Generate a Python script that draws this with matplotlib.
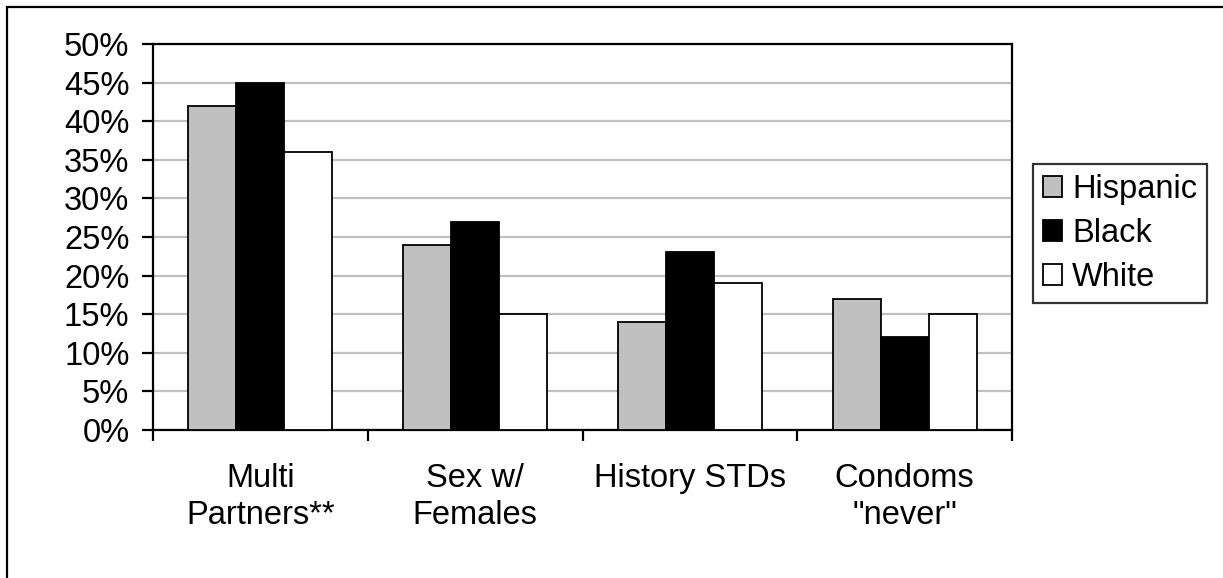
import numpy as np
import matplotlib
matplotlib.use('Agg')
from matplotlib import pyplot as plt
from matplotlib.patches import Rectangle

plt.rcParams['font.family'] = ['Liberation Sans', 'DejaVu Sans']

# Risk behaviours by group
categories = ['Multi\nPartners**', 'Sex w/\nFemales', 'History STDs', 'Condoms\n"never"']
hispanic = [42, 24, 14, 17]
black = [45, 27, 23, 12]
white = [36, 15, 19, 15]
series_names = ['Hispanic', 'Black', 'White']
series_colors = ['#c0c0c0', '#000000', '#ffffff']
y_ticks = [0, 5, 10, 15, 20, 25, 30, 35, 40, 45, 50]

W, H = 1223, 578
fs = 23.5
fig = plt.figure(figsize=(W / 100, H / 100), dpi=100)
ax = fig.add_axes([153 / W, 1 - 430 / H, (1012 - 153) / W, (430 - 44) / H])

x = np.arange(len(categories))
bw = 0.2235
for i, (vals, name, col) in enumerate(zip([hispanic, black, white], series_names, series_colors)):
    ax.bar(x + (i - 1) * bw, vals, bw, color=col, edgecolor='black',
           linewidth=1.3, label=name, zorder=3)

ax.set_xlim(-0.5, len(categories) - 0.5)
ax.set_ylim(0, 50)
ax.set_yticks(y_ticks)
ax.set_yticklabels([f'{t}%' for t in y_ticks])
ax.yaxis.grid(True, color='#c0c0c0', linewidth=1.6, zorder=0)
ax.set_axisbelow(True)

# category labels on major ticks, group boundaries on minor ticks
ax.set_xticks(x)
ax.set_xticklabels(categories, linespacing=1.25)
ax.set_xticks(np.arange(len(categories) + 1) - 0.5, minor=True)
ax.tick_params(axis='x', which='major', length=0, pad=24, labelsize=fs)
ax.tick_params(axis='x', which='minor', length=8, width=1.6, direction='out')
ax.tick_params(axis='y', length=8, width=1.6, direction='out', pad=9, labelsize=fs)

for s in ax.spines.values():
    s.set_linewidth(1.6)
    s.set_color('black')

leg = fig.legend(loc='upper left', bbox_to_anchor=(1033 / W, 1 - 164 / H),
                 fontsize=fs, frameon=True, fancybox=False, shadow=False,
                 handlelength=0.6, handleheight=0.6, handletextpad=0.3,
                 borderpad=0.3, labelspacing=0.4, borderaxespad=0)
leg.get_frame().set_edgecolor('black')
leg.get_frame().set_linewidth(1.6)

# outer frame around the whole chart
fig.patches.append(Rectangle((7 / W, -1), 2, 2 - 7 / H, transform=fig.transFigure,
                             fill=False, edgecolor='black', linewidth=1.6, zorder=10))

fig.savefig('out.png', dpi=100)
